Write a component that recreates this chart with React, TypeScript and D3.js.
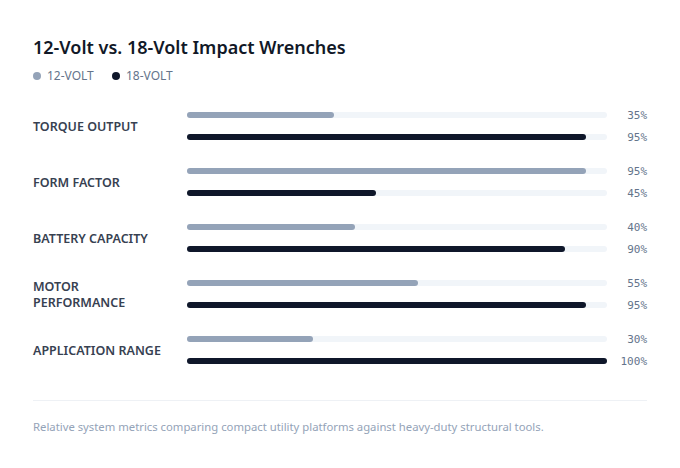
import React from 'react'
import * as d3 from 'd3'

const categories = ['TORQUE OUTPUT', 'FORM FACTOR', 'BATTERY CAPACITY', 'MOTOR PERFORMANCE', 'APPLICATION RANGE']
const labelLines = [['TORQUE OUTPUT'], ['FORM FACTOR'], ['BATTERY CAPACITY'], ['MOTOR', 'PERFORMANCE'], ['APPLICATION RANGE']]
const series = ['12-VOLT', '18-VOLT']
const volt12 = [35, 95, 40, 55, 30]
const volt18 = [95, 45, 90, 95, 100]
const colors = ['#94a3b8', '#0f172a']

const W = 680
const H = 468
const font = '"Noto Sans", "Open Sans", sans-serif'
const mono = '"DejaVu Sans Mono", "Liberation Mono", monospace'

export default function App() {
  const x = d3.scaleLinear().domain([0, 100]).range([187, 607])
  const y = d3.scaleBand().domain(categories).range([104, 384]).paddingInner(0)
  const sub = d3.scalePoint().domain(series).range([0, 22])
  const values = [volt12, volt18]
  const barH = 6

  return (
    <div style={{ margin: -8 }}>
      <svg width={W} height={H} style={{ display: 'block', fontFamily: font }}>
        <rect x={0.5} y={0.5} width={W - 1} height={H - 1} fill="#fff" stroke="#e2e4e8" rx={2} />
        <text x={33} y={54} fontSize={18} fontWeight={600} fill="#111827">
          12-Volt vs. 18-Volt Impact Wrenches
        </text>
        {series.map((s, i) => (
          <g key={s} transform={`translate(${i === 0 ? 33 : 112},76)`}>
            <circle cx={4} cy={0} r={4} fill={colors[i]} />
            <text x={14} y={4} fontSize={12} fill="#64748b">{s}</text>
          </g>
        ))}
        {categories.map((c, ci) => {
          const top = y(c)! + 11
          const mid = top + sub.range()[1] / 2
          const lines = labelLines[ci]
          return (
            <g key={c}>
              {lines.map((l, li) => (
                <text
                  key={l}
                  x={33}
                  y={mid + 4.5 + (li - (lines.length - 1) / 2) * 16}
                  fontSize={12.5}
                  fontWeight={600}
                  fill="#374151"
                >
                  {l}
                </text>
              ))}
              {series.map((s, si) => {
                const cy = top + sub(s)!
                const v = values[si][ci]
                return (
                  <g key={s}>
                    <rect x={x(0)} y={cy - barH / 2} width={x(100) - x(0)} height={barH} rx={barH / 2} fill="#f1f5f9" />
                    <rect x={x(0)} y={cy - barH / 2} width={x(v) - x(0)} height={barH} rx={barH / 2} fill={colors[si]} />
                    <text x={647} y={cy + 4} fontSize={11} textAnchor="end" fill="#64748b" fontFamily={mono}>
                      {v}%
                    </text>
                  </g>
                )
              })}
            </g>
          )
        })}
        <line x1={33} x2={647} y1={400.5} y2={400.5} stroke="#eef1f5" />
        <text x={33} y={431} fontSize={11.3} fill="#94a3b8">
          Relative system metrics comparing compact utility platforms against heavy-duty structural tools.
        </text>
      </svg>
    </div>
  )
}
